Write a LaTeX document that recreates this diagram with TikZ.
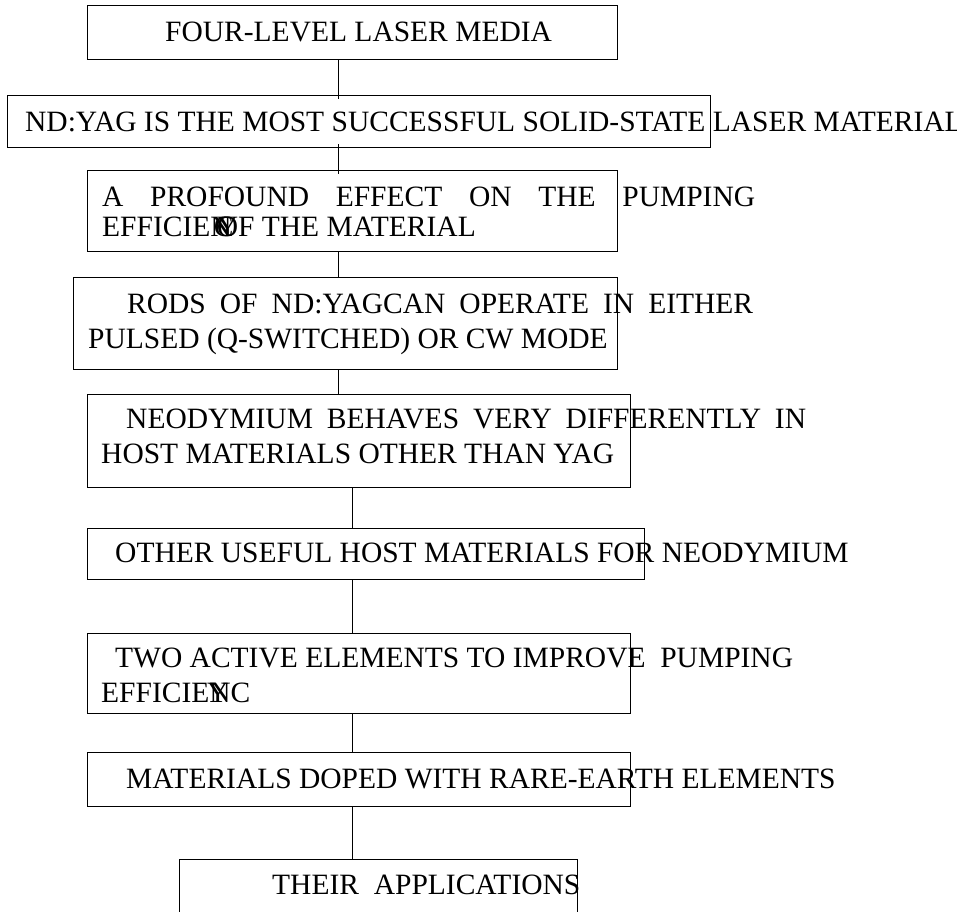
\documentclass[tikz,border=0pt]{standalone}
\usepackage{fontspec}
\setmainfont{Liberation Serif}
\begin{document}
\begin{tikzpicture}[x=1pt,y=-1pt,
  frame/.style={draw=black, line width=1.1pt, inner sep=0pt, anchor=north west},
  caption/.style={anchor=base west, inner sep=0pt, font=\fontsize{29.5}{31}\selectfont},
  link/.style={draw=black, line width=0.9pt}]
\useasboundingbox (0,0) rectangle (957,911);
\clip (0,0) rectangle (957,911);

% guide columns for the vertical connectors
\coordinate (spineA) at (338,0);
\coordinate (spineB) at (352,0);

% boxes
\node[frame, minimum width=530pt, minimum height=54pt] (b1) at (87,5) {};
\node[frame, minimum width=703pt, minimum height=52pt] (b2) at (7,95) {};
\node[frame, minimum width=530pt, minimum height=81pt] (b3) at (87,170) {};
\node[frame, minimum width=544pt, minimum height=92pt] (b4) at (73,277) {};
\node[frame, minimum width=543pt, minimum height=93pt] (b5) at (87,394) {};
\node[frame, minimum width=557pt, minimum height=51pt] (b6) at (87,528) {};
\node[frame, minimum width=543pt, minimum height=80pt] (b7) at (87,633) {};
\node[frame, minimum width=543pt, minimum height=54pt] (b8) at (87,752) {};
\node[frame, minimum width=398pt, minimum height=70pt] (b9) at (179,859) {};

% connectors
\draw[link, shorten >=-4pt] (b1.south -| spineA) -- (b2.north -| spineA);
\draw[link, shorten <=-4pt, shorten >=-4pt] (b2.south -| spineA) -- (b3.north -| spineA);
\draw[link] (b3.south -| spineA) -- (b4.north -| spineA);
\draw[link] (b4.south -| spineA) -- (b5.north -| spineA);
\draw[link] (b5.south -| spineB) -- (b6.north -| spineB);
\draw[link] (b6.south -| spineB) -- (b7.north -| spineB);
\draw[link] (b7.south -| spineB) -- (b8.north -| spineB);
\draw[link] (b8.south -| spineB) -- (b9.north -| spineB);

% texts
\node[caption] (t1) at (165,41) {FOUR-LEVEL LASER MEDIA};
\node[caption] (t2) at (25,131) {ND:YAG IS THE MOST SUCCESSFUL SOLID-STATE LASER MATERIAL};
\node[caption] (t3a) at (102,206) {\makebox[653pt][s]{A PROFOUND EFFECT ON THE PUMPING}};
\node[caption] (t3b) at (102,236) {EFFICIE\rlap{N}\kern0.12em\rlap{C}\kern0.1em\rlap{Y}OF THE MATERIAL};
\node[caption] (t4a) at (127,313) {\makebox[626pt][s]{RODS OF ND:YAGCAN OPERATE IN EITHER}};
\node[caption] (t4b) at (88,348) {PULSED (Q-SWITCHED) OR CW MODE};
\node[caption] (t5a) at (126,428) {\makebox[680pt][s]{NEODYMIUM BEHAVES VERY DIFFERENTLY IN}};
\node[caption] (t5b) at (101,463) {HOST MATERIALS OTHER THAN YAG};
\node[caption] (t6) at (115,562) {OTHER USEFUL HOST MATERIALS FOR NEODYMIUM};
\node[caption] (t7a) at (115,667) {TWO ACTIVE ELEMENTS TO IMPROVE\ \ PUMPING};
\node[caption] (t7b) at (101,702) {EFFICIE\rlap{\kern-0.08em Y}NC};
\node[caption] (t8) at (126,788) {MATERIALS DOPED WITH RARE-EARTH ELEMENTS};
\node[caption] (t9) at (272,894) {THEIR\ \ APPLICATIONS};
\end{tikzpicture}
\end{document}
